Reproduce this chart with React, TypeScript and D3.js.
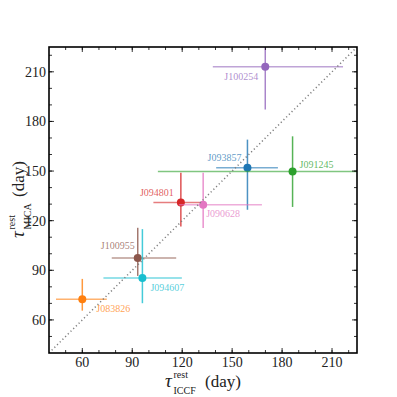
import React from "react";
import * as d3 from "d3";

// source names, in the order they are drawn
const names = ["J093857", "J083826", "J091245", "J094801", "J100254", "J100955", "J090628", "J094607"];
const colors = ["#1f77b4", "#ff7f0e", "#2ca02c", "#d62728", "#9467bd", "#8c564b", "#e377c2", "#17becf"];

// ICCF rest-frame lag (x) with lower / upper bounds
const iccf = [159.2, 60, 186.3, 119.2, 169.9, 93.3, 132.6, 96.1];
const iccfLo = [140.4, 44.2, 105.4, 102.7, 138.4, 77.7, 118.0, 72.7];
const iccfHi = [177.5, 74.7, 240, 132.0, 216.6, 116.4, 167.9, 119.8];

// MICA rest-frame lag (y) with lower / upper bounds
const mica = [152.0, 72.5, 149.8, 131.0, 213.0, 97.5, 129.7, 85.3];
const micaLo = [126.6, 65.6, 128.3, 116.5, 187.2, 86.6, 115.5, 70.1];
const micaHi = [169.0, 84.8, 171.0, 148.9, 240, 115.7, 148.9, 114.9];

const majorTicks = [60, 90, 120, 150, 180, 210];
const minorTicks = d3.range(50, 225, 10);

// label placement next to each point (pixels)
const labelPos: Record<string, [number, number, string]> = {
  J100254: [-7, 13, "end"],
  J093857: [-6, -6.5, "end"],
  J091245: [7, -3.5, "start"],
  J094801: [-7, -6.5, "end"],
  J090628: [3, 12.5, "start"],
  J100955: [-3, -8.5, "end"],
  J094607: [8, 12.5, "start"],
  J083826: [14, 13, "start"],
};

const W = 397;
const H = 397;
const margin = { top: 47, right: 40, bottom: 44, left: 49 };
const FONT = "'Liberation Serif', 'Times New Roman', serif";

const App = () => {
  const x = d3.scaleLinear().domain([40, 225]).range([margin.left, W - margin.right]);
  const y = d3.scaleLinear().domain([40, 225]).range([H - margin.bottom, margin.top]);
  const [x0, x1] = x.range();
  const [y0, y1] = y.range();
  const cx = (x0 + x1) / 2;
  const cy = (y0 + y1) / 2;

  return (
    <svg width={W} height={H} style={{ position: "absolute", left: 0, top: 0, background: "#fff" }}>
      <defs>
        <clipPath id="plotClip">
          <rect x={x0} y={y1} width={x1 - x0} height={y0 - y1} />
        </clipPath>
      </defs>

      <g clipPath="url(#plotClip)">
        {names.map((n, i) => (
          <g key={n}>
            <line x1={x(iccfLo[i])} x2={x(iccfHi[i])} y1={y(mica[i])} y2={y(mica[i])}
              stroke={colors[i]} strokeWidth={1.5} strokeOpacity={0.6} />
            <line x1={x(iccf[i])} x2={x(iccf[i])} y1={y(micaLo[i])} y2={y(micaHi[i])}
              stroke={colors[i]} strokeWidth={1.5} strokeOpacity={0.8} />
            <circle cx={x(iccf[i])} cy={y(mica[i])} r={4} fill={colors[i]} />
          </g>
        ))}
        {/* 1:1 line */}
        <line x1={x(40)} y1={y(40)} x2={x(225)} y2={y(225)}
          stroke="#808080" strokeWidth={1.5} strokeDasharray="1.2 2.6" />
      </g>

      {names.map((n, i) => {
        const [dx, dy, anchor] = labelPos[n];
        return (
          <text key={n} x={x(iccf[i]) + dx} y={y(mica[i]) + dy} textAnchor={anchor as any}
            fontFamily={FONT} fontSize={10} fill={colors[i]} fillOpacity={0.75}>
            {n}
          </text>
        );
      })}

      {/* ticks on all four sides, pointing in */}
      <g stroke="#000" strokeWidth={0.8}>
        {minorTicks.map((t) => (
          <g key={"m" + t}>
            <line x1={x(t)} x2={x(t)} y1={y0} y2={y0 - 3} />
            <line x1={x(t)} x2={x(t)} y1={y1} y2={y1 + 3} />
            <line x1={x0} x2={x0 + 3} y1={y(t)} y2={y(t)} />
            <line x1={x1} x2={x1 - 3} y1={y(t)} y2={y(t)} />
          </g>
        ))}
        {majorTicks.map((t) => (
          <g key={"M" + t}>
            <line x1={x(t)} x2={x(t)} y1={y0} y2={y0 - 5} />
            <line x1={x(t)} x2={x(t)} y1={y1} y2={y1 + 5} />
            <line x1={x0} x2={x0 + 5} y1={y(t)} y2={y(t)} />
            <line x1={x1} x2={x1 - 5} y1={y(t)} y2={y(t)} />
          </g>
        ))}
      </g>
      <rect x={x0} y={y1} width={x1 - x0} height={y0 - y1} fill="none" stroke="#000" strokeWidth={1.6} />

      <g fontFamily={FONT} fontSize={14} fill="#222">
        {majorTicks.map((t) => (
          <text key={"xl" + t} x={x(t)} y={y0 + 14} textAnchor="middle">{t}</text>
        ))}
        {majorTicks.map((t) => (
          <text key={"yl" + t} x={x0 - 3} y={y(t)} dy="0.35em" textAnchor="end">{t}</text>
        ))}
      </g>

      {/* x label */}
      <g fontFamily={FONT} fill="#222" transform={`translate(${cx - 38},${387})`}>
        <text x={0} y={0} fontSize={19} fontStyle="italic">τ</text>
        <text x={8.5} y={-9} fontSize={10}>rest</text>
        <text x={8.5} y={7} fontSize={10}>ICCF</text>
        <text x={40} y={0} fontSize={17}>(day)</text>
      </g>

      {/* y label */}
      <g fontFamily={FONT} fill="#222" transform={`translate(23.5,${cy + 38}) rotate(-90)`}>
        <text x={0} y={0} fontSize={19} fontStyle="italic">τ</text>
        <text x={8.5} y={-9} fontSize={10}>rest</text>
        <text x={8.5} y={7} fontSize={10}>MICA</text>
        <text x={41} y={0} fontSize={17}>(day)</text>
      </g>
    </svg>
  );
};

export default App;
